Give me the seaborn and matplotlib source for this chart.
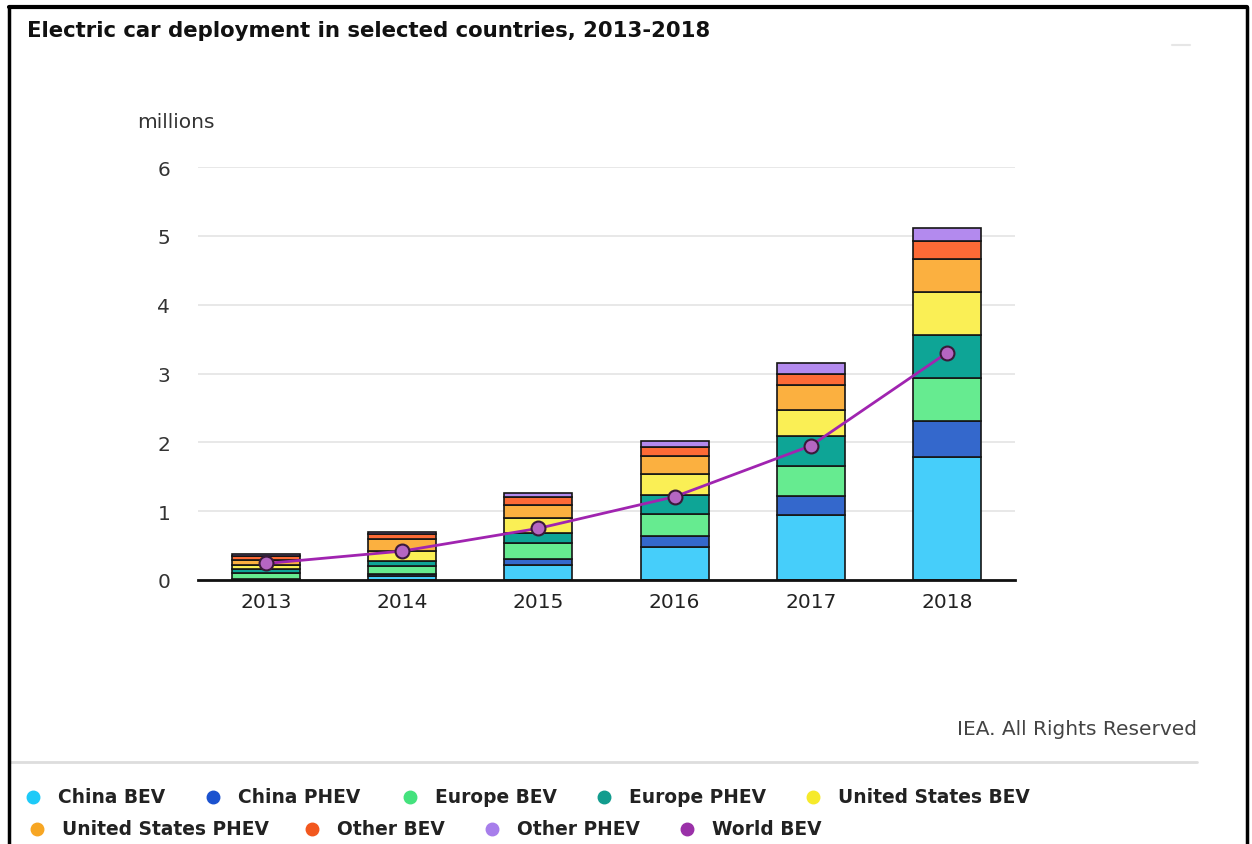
import numpy as np
import matplotlib
matplotlib.use("Agg")
import matplotlib.pyplot as plt
import seaborn as sns
from matplotlib.lines import Line2D

# ---------------- data ----------------
years = ["2013", "2014", "2015", "2016", "2017", "2018"]
china_bev = [0.01, 0.06, 0.22, 0.475, 0.95, 1.78]
china_phev = [0.005, 0.03, 0.085, 0.16, 0.27, 0.53]
europe_bev = [0.08, 0.12, 0.235, 0.32, 0.44, 0.63]
europe_phev = [0.06, 0.06, 0.15, 0.28, 0.43, 0.62]
us_bev = [0.065, 0.15, 0.21, 0.30, 0.38, 0.63]
us_phev = [0.07, 0.18, 0.19, 0.26, 0.36, 0.48]
other_bev = [0.06, 0.07, 0.11, 0.14, 0.16, 0.26]
other_phev = [0.025, 0.03, 0.06, 0.08, 0.16, 0.18]
world_bev = [0.24, 0.42, 0.75, 1.21, 1.95, 3.30]

series_names = ["China BEV", "China PHEV", "Europe BEV", "Europe PHEV",
                "United States BEV", "United States PHEV", "Other BEV", "Other PHEV"]
series_values = [china_bev, china_phev, europe_bev, europe_phev,
                 us_bev, us_phev, other_bev, other_phev]
colors = ["#46CEFA", "#3468CC", "#66EB90", "#0EA596",
          "#FAEF55", "#FBB040", "#FD6A36", "#B38AEE"]
world_color = "#A024B0"
legend_names = series_names + ["World BEV"]
legend_colors = ["#1DCAF8", "#1B52CF", "#44E27D", "#129C8E",
                 "#F6EA2A", "#F7A623", "#F2571E", "#A77EEB", "#9A30A8"]

# ---------------- figure ----------------
sns.set_theme(style="white")
plt.rcParams["font.family"] = ["DejaVu Sans"]

W, H = 1252, 845
fig = plt.figure(figsize=(W / 100, H / 100), dpi=100)
fig.patch.set_facecolor("white")

ax = fig.add_axes([198 / W, 1 - 581 / H, (1015 - 198) / W, (581 - 168) / H])

bottom = np.zeros(len(years))
for vals, c in zip(series_values, colors):
    sns.barplot(x=years, y=vals, bottom=bottom, color=c, saturation=1,
                width=0.5, edgecolor="#151515", linewidth=1.2, ax=ax, zorder=2)
    bottom = bottom + np.array(vals)

sns.pointplot(x=years, y=world_bev, color=world_color, linewidth=2,
              markersize=10, markerfacecolor="#B566C2",
              markeredgecolor="#3A1A3A", markeredgewidth=1.5, ax=ax, zorder=5)

ax.set_xlim(-0.5, 5.5)
ax.set_ylim(0, 6)
ax.set_yticks(range(7))
ax.set_xticks(range(len(years)))
ax.set_xticks(np.arange(0.5, len(years), 1.0), minor=True)
ax.tick_params(axis="x", which="major", length=0, pad=9, labelsize=14.5, labelcolor="#222222")
ax.tick_params(axis="x", which="minor", length=11, width=1.6, color="#111111", direction="out")
ax.tick_params(axis="y", length=0, pad=20, labelsize=14.5, labelcolor="#333333")
ax.set_xlabel("")
ax.set_ylabel("")
ax.yaxis.grid(True, color="#E4E4E4", linewidth=1.2)
ax.xaxis.grid(False)
ax.set_axisbelow(True)
for s in ["left", "top", "right"]:
    ax.spines[s].set_visible(False)
ax.spines["bottom"].set_color("#111111")
ax.spines["bottom"].set_linewidth(2)
ax.set_facecolor("white")

# ---------------- texts ----------------
fig.text(27 / W, 1 - 31 / H, "Electric car deployment in selected countries, 2013-2018",
         fontsize=15.3, fontweight="bold", color="#111111", va="center", ha="left")
fig.text(137 / W, 1 - 122 / H, "millions", fontsize=14.5, color="#333333", va="center", ha="left")
fig.text(1197 / W, 1 - 730 / H, "IEA. All Rights Reserved", fontsize=14.5, color="#444444",
         va="center", ha="right")

# separator and frame
fig.add_artist(Line2D([10 / W, 1197 / W], [1 - 763 / H, 1 - 763 / H],
                      color="#DDDDDD", lw=2, transform=fig.transFigure))
fig.add_artist(Line2D([1172 / W, 1190 / W], [1 - 46 / H, 1 - 46 / H],
                      color="#E6E6E6", lw=1.5, transform=fig.transFigure))
fig.add_artist(Line2D([9 / W, 1247 / W], [1 - 8 / H, 1 - 8 / H],
                      color="black", lw=3, transform=fig.transFigure))
fig.add_artist(Line2D([9 / W, 9 / W], [1 - 8 / H, 0], color="black", lw=2.5,
                      transform=fig.transFigure))
fig.add_artist(Line2D([1247 / W, 1247 / W], [1 - 8 / H, 0], color="black", lw=2.5,
                      transform=fig.transFigure))

# ---------------- legend ----------------
legend_pos = [(33, 798), (213, 798), (410, 798), (604, 798), (813, 798),
              (37, 830), (312, 830), (492, 830), (687, 830)]
for name, c, (lx, ly) in zip(legend_names, legend_colors, legend_pos):
    fig.add_artist(Line2D([lx / W], [1 - ly / H], marker="o", markersize=9,
                          markerfacecolor=c, markeredgecolor=c, linestyle="none",
                          transform=fig.transFigure))
    fig.text((lx + 25) / W, 1 - ly / H, name, fontsize=13.4, fontweight="bold",
             color="#222222", va="center", ha="left")

fig.savefig("out.png", dpi=100, facecolor="white")
